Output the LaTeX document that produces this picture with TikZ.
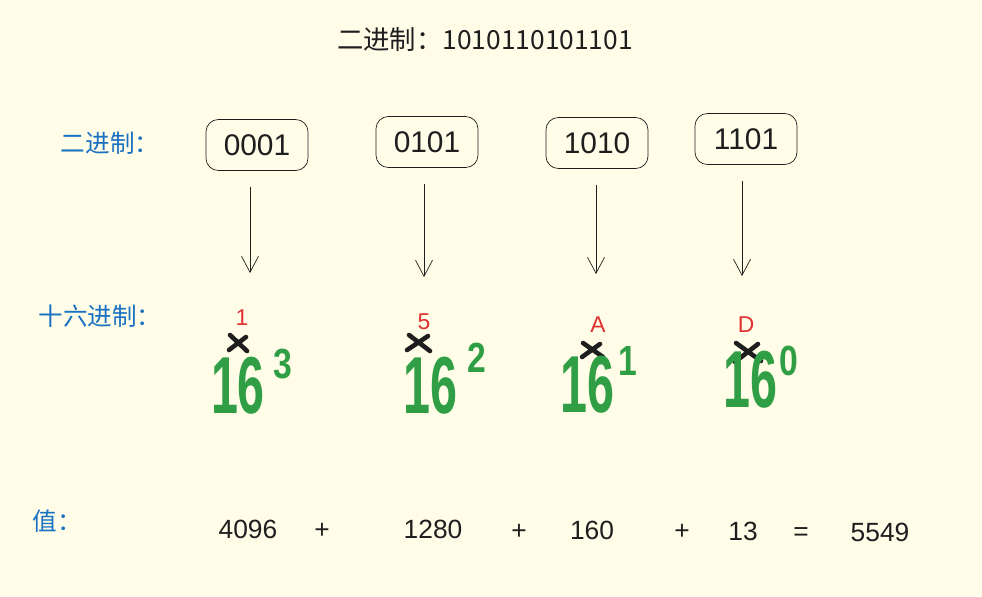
\documentclass[tikz,border=0pt]{standalone}
\usepackage{fontspec}
\setmainfont{Liberation Sans}
\newfontfamily\cjk{Noto Sans CJK SC}
\usetikzlibrary{arrows.meta,positioning}
\definecolor{paper}{RGB}{255,253,232}
\definecolor{ink}{RGB}{30,30,30}
\definecolor{labelBlue}{RGB}{25,113,194}
\definecolor{hexRed}{RGB}{224,49,49}
\definecolor{powGreen}{RGB}{47,158,68}
\newcommand{\narrow}[2][0.6]{\scalebox{#1}[1]{#2}}
\tikzset{
  bitbox/.style={draw=ink, rounded corners=7pt, minimum width=2.04cm, minimum height=1.02cm, inner sep=0pt, font=\fontsize{17}{17}\selectfont, text=ink},
  rowlabel/.style={text=labelBlue, font=\cjk\fontsize{14}{14}\selectfont, inner sep=0pt},
  conv/.style={draw=ink, thin, -{Straight Barb[length=3.2mm,width=3.4mm]}, shorten <=9pt},
  hexdigit/.style={text=hexRed, font=\fontsize{13}{13}\selectfont, inner sep=0pt},
  base/.style={text=powGreen, font=\bfseries\fontsize{46}{46}\selectfont, inner sep=0pt},
  expo/.style={text=powGreen, font=\bfseries\fontsize{24}{24}\selectfont, inner sep=0pt},
  times/.style={draw=ink, line width=2.6pt, line cap=round},
  val/.style={text=ink, font=\fontsize{15}{15}\selectfont, inner sep=0pt}
}
\begin{document}
\begin{tikzpicture}[x=0.02cm, y=-0.02cm]
    \fill[paper] (0,0) rectangle (982,596);
    \useasboundingbox (0,0) rectangle (982,596);
    % title
    \node[text=ink, font=\cjk\fontsize{15}{15}\selectfont, inner sep=0pt] (title) at (485,40) {二进制：1010110101101};
    % row labels
    \node[rowlabel] (lbin) at (110,143) {二进制：};
    \node[rowlabel] (lhex) at (100,316) {十六进制：};
    \node[rowlabel] (lval) at (57,521) {值：};
    % binary groups
    \node[bitbox] (b1) at (257,145) {0001};
    \node[bitbox] (b2) at (427,142) {0101};
    \node[bitbox] (b3) at (597,143) {1010};
    \node[bitbox] (b4) at (746,139) {1101};
    \coordinate (t1) at (250,273);
    \coordinate (t2) at (424,277);
    \coordinate (t3) at (596,274);
    \coordinate (t4) at (742,276);
    \draw[conv] (b1.south -| t1) -- (t1);
    \draw[conv] (b2.south -| t2) -- (t2);
    \draw[conv] (b3.south -| t3) -- (t3);
    \draw[conv] (b4.south -| t4) -- (t4);
    % hex digits times powers of 16
    \node[hexdigit] (h1) at (242,318) {1};
    \node[hexdigit] (h2) at (424,322) {5};
    \node[hexdigit] (h3) at (598,325) {A};
    \node[hexdigit] (h4) at (746,325) {D};
    \draw[times] (230,335) -- (247,351) (229,350) -- (246,337);
    \draw[times] (409,335) -- (430,351) (407,350) -- (428,336);
    \draw[times] (583,343) -- (603,357) (582,357) -- (600,344);
    \draw[times] (736,343) -- (761,361) (735,362) -- (758,344);
    \node[base] (p1) at (238,386) {\narrow{16}};
    \node[expo] (e1) at (283,364) {\narrow[0.8]{3}};
    \node[base] (p2) at (430,386) {\narrow{16}};
    \node[expo] (e2) at (477,358) {\narrow[0.8]{2}};
    \node[base] (p3) at (587,385) {\narrow{16}};
    \node[expo] (e3) at (628,361) {\narrow[0.8]{1}};
    \node[base] (p4) at (750,380) {\narrow{16}};
    \node[expo] (e4) at (789,361) {\narrow[0.8]{0}};
    % values
    \node[val] (v1) at (248,529) {4096};
    \node[val] (s1) at (322,531) {+};
    \node[val] (v2) at (433,529) {1280};
    \node[val] (s2) at (519,532) {+};
    \node[val] (v3) at (592,530) {160};
    \node[val] (s3) at (682,532) {+};
    \node[val] (v4) at (743,531) {13};
    \node[val] (eq) at (801,534) {=};
    \node[val] (v5) at (880,532) {5549};
\end{tikzpicture}
\end{document}
